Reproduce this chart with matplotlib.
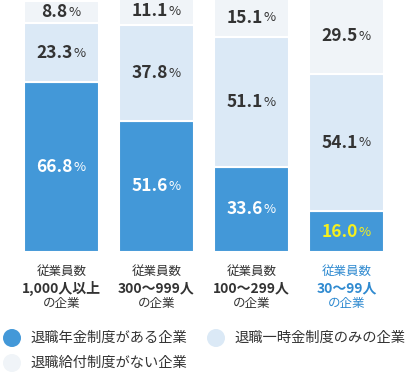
import matplotlib
matplotlib.use("Agg")
import matplotlib.pyplot as plt
from matplotlib.patches import Circle

plt.rcParams['font.family'] = ['Noto Sans CJK JP', 'DejaVu Sans']

line1 = ["従業員数", "従業員数", "従業員数", "従業員数"]
line2 = ["1,000人以上", "300〜999人", "100〜299人", "30〜99人"]
line3 = ["の企業", "の企業", "の企業", "の企業"]

pension = [66.8, 51.6, 33.6, 16.0]
lump_sum = [23.3, 37.8, 51.1, 54.1]
no_plan = [8.8, 11.1, 15.1, 29.5]

series_names = ["退職年金制度がある企業", "退職一時金制度のみの企業", "退職給付制度がない企業"]
colors = ["#4398d8", "#dbe9f6", "#f0f4f8"]
label_colors = [["#ffffff", "#ffffff", "#ffffff", "#f5f01e"], ["#333333"] * 4, ["#333333"] * 4]
cat_colors = ["#333333", "#333333", "#333333", "#2f8ad0"]

W, H = 409, 373
fig = plt.figure(figsize=(W / 100, H / 100), dpi=100)
ax = fig.add_axes([0, 1 - 252 / H, 1, 252 / H])

x = range(len(pension))
bottom = [0, 0, 0, 0]
for vals, col, lcols in zip([pension, lump_sum, no_plan], colors, label_colors):
    ax.bar(x, vals, width=0.79, bottom=bottom, color=col, edgecolor="white", linewidth=1.5)
    for i, v in enumerate(vals):
        yc = bottom[i] + v / 2
        t = ax.annotate(f"{v:.1f}", xy=(i, yc), xytext=(-5, 0), textcoords="offset points",
                        ha="center", va="center", fontsize=12.5, fontweight="bold", color=lcols[i])
        ax.annotate("%", xy=(1, 0.12), xycoords=t, xytext=(0.6, 0), textcoords="offset points",
                    ha="left", va="bottom", fontsize=9.5, color=lcols[i])
    bottom = [b + v for b, v in zip(bottom, vals)]

ax.set_xlim(-61.5 / 95, (W - 61.5) / 95)
ax.set_ylim(0, 99.2)
ax.axis("off")

# category labels under bars
for i in x:
    xf = (61.5 + 95 * i) / W
    fig.text(xf, 1 - 271 / H, line1[i], ha="center", va="center", fontsize=9, color=cat_colors[i])
    fig.text(xf, 1 - 288 / H, line2[i], ha="center", va="center", fontsize=10,
             fontweight="bold", color=cat_colors[i])
    fig.text(xf, 1 - 304 / H, line3[i], ha="center", va="center", fontsize=9, color=cat_colors[i])

# legend (positions in pixels)
leg_pos = [(12, 338), (216, 338), (12, 363)]
for (px, py), name, col in zip(leg_pos, series_names, colors):
    fig.patches.append(Circle((px / 100, (H - py) / 100), 0.09, transform=fig.dpi_scale_trans,
                              facecolor=col, edgecolor="none"))
    fig.text((px + 18) / W, 1 - py / H, name, ha="left", va="center", fontsize=10.3, color="#333333")

fig.savefig("out.png", dpi=100)
